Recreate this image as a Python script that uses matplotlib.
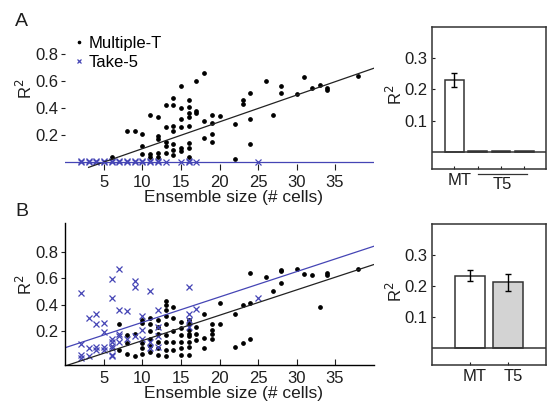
import numpy as np
import matplotlib
matplotlib.use("Agg")
import matplotlib.pyplot as plt
import matplotlib.transforms as mtransforms

plt.rcParams['font.family'] = ['Liberation Sans', 'DejaVu Sans']
plt.rcParams['font.size'] = 12

# ---- panel A scatter data (ensemble size vs R^2) ----
a_mt_x = [6, 8, 9,
          10, 10, 10, 11, 11, 11,
          12, 12, 12, 12, 12, 13, 13, 13, 13, 13,
          14, 14, 14, 14, 14, 14, 14,
          15, 15, 15, 15, 15, 15,
          16, 16, 16, 16, 16, 16, 16, 16,
          17, 17, 17, 18, 18, 18, 19, 19, 19, 19, 20,
          22, 22, 23, 23, 24, 24, 24, 26, 27, 28, 28,
          30, 31, 32, 33, 34, 34, 38]
a_mt_y = [0.04, 0.23, 0.23,
          0.21, 0.12, 0.06, 0.35, 0.06, 0.04,
          0.33, 0.19, 0.17, 0.07, 0.04, 0.42, 0.26, 0.15, 0.12, 0.07,
          0.47, 0.42, 0.27, 0.23, 0.13, 0.09, 0.05,
          0.56, 0.40, 0.32, 0.26, 0.10, 0.08,
          0.46, 0.41, 0.36, 0.33, 0.27, 0.14, 0.10, 0.04,
          0.60, 0.38, 0.36, 0.66, 0.30, 0.18, 0.35, 0.29, 0.21, 0.15, 0.34,
          0.28, 0.02, 0.46, 0.43, 0.51, 0.32, 0.13, 0.60, 0.35, 0.56, 0.51,
          0.50, 0.63, 0.55, 0.57, 0.55, 0.53, 0.64]

a_t5_x = [2, 2, 3, 3, 4, 4, 5, 5, 6, 6, 7, 7, 8, 8, 9, 9,
          10, 10, 11, 11, 12, 12, 13, 15, 16, 16, 17, 25]
a_t5_y = [0.01, 0.00, 0.00, 0.01, 0.00, 0.01, 0.00, 0.01, 0.01, 0.00,
          0.00, 0.01, 0.00, 0.01, 0.01, 0.00, 0.00, 0.01, 0.01, 0.00,
          0.00, 0.01, 0.00, 0.00, 0.01, 0.00, 0.00, 0.00]

# ---- panel B scatter data ----
b_mt_x = [7, 7, 8, 8, 8, 9, 9,
          10, 10, 10, 10, 10, 11, 11, 11, 11, 11, 11,
          12, 12, 12, 12, 12, 12,
          13, 13, 13, 13, 13, 13, 13, 13, 13,
          14, 14, 14, 14, 14, 15, 15, 15, 15, 15, 15,
          16, 16, 16, 16, 16, 16, 16, 16,
          17, 17, 17, 18, 18, 18, 19, 19, 19, 19, 20, 20,
          22, 22, 23, 23, 24, 24, 24, 26, 27, 28, 28, 28,
          30, 31, 32, 33, 34, 34, 38]
b_mt_y = [0.25, 0.06, 0.17, 0.11, 0.03, 0.18, 0.01,
          0.28, 0.26, 0.11, 0.07, 0.03, 0.30, 0.25, 0.20, 0.14, 0.09, 0.04,
          0.28, 0.23, 0.18, 0.12, 0.07, 0.02,
          0.43, 0.40, 0.36, 0.31, 0.25, 0.17, 0.12, 0.06, 0.01,
          0.38, 0.30, 0.20, 0.12, 0.06, 0.27, 0.22, 0.17, 0.12, 0.07, 0.02,
          0.28, 0.25, 0.21, 0.18, 0.16, 0.12, 0.08, 0.02,
          0.23, 0.18, 0.13, 0.33, 0.15, 0.07, 0.25, 0.21, 0.18, 0.14, 0.41, 0.25,
          0.33, 0.08, 0.40, 0.11, 0.64, 0.41, 0.14, 0.61, 0.50, 0.66, 0.65, 0.56,
          0.67, 0.63, 0.62, 0.38, 0.64, 0.62, 0.67]

b_t5_x = [2, 2, 2, 2, 3, 3, 3, 4, 4, 4, 4, 5, 5, 5, 5,
          6, 6, 6, 6, 6, 6, 6, 6, 7, 7, 7, 7, 7, 8, 8,
          9, 9, 9, 10, 10, 10, 11, 11, 11, 12, 12, 12, 12,
          16, 16, 16, 16, 17, 25]
b_t5_y = [0.49, 0.10, 0.02, 0.00, 0.30, 0.07, 0.01, 0.33, 0.25, 0.08, 0.06,
          0.26, 0.19, 0.08, 0.06,
          0.59, 0.45, 0.14, 0.12, 0.09, 0.07, 0.02, 0.01,
          0.67, 0.36, 0.18, 0.16, 0.12, 0.35, 0.14,
          0.58, 0.53, 0.16, 0.31, 0.21, 0.14, 0.50, 0.12, 0.07,
          0.36, 0.23, 0.16, 0.08,
          0.53, 0.33, 0.28, 0.23, 0.37, 0.45]

# regression lines: (slope, intercept, x start, x end)
a_fit_mt = (0.0198, -0.099, 3, 40)
a_fit_t5 = (0.0, 0.002, 0, 40)
b_fit_mt = (0.0191, -0.063, 0, 40)
b_fit_t5 = (0.0191, 0.075, 0, 40)

# ---- bar panels ----
a_bar_pos = [1, 2, 3, 4]
a_bar_val = [0.23, 0.002, 0.002, 0.002]
a_bar_err = [0.022, 0, 0, 0]

b_bar_pos = [1, 2]
b_bar_val = [0.233, 0.212]
b_bar_err = [0.017, 0.027]
b_bar_lab = ['MT', 'T5']

blue = '#4545b5'
ink = '#1e1e1e'

fig = plt.figure(figsize=(5.55, 4.07), dpi=100)

axA = fig.add_axes([0.118, 0.583, 0.555, 0.351])
axB = fig.add_axes([0.118, 0.103, 0.555, 0.349])
barA = fig.add_axes([0.778, 0.585, 0.206, 0.349])
barB = fig.add_axes([0.778, 0.103, 0.206, 0.347])


def fit_line(ax, fit, color):
    k, b, x0, x1 = fit
    xx = np.array([x0, x1])
    ax.plot(xx, k * xx + b, color=color, lw=0.9)


def scatter_axes(ax, spines):
    ax.set_xlim(0, 40)
    ax.set_ylim(-0.057, 1.0)
    ax.set_xticks([5, 10, 15, 20, 25, 30, 35])
    ax.set_yticks([0.2, 0.4, 0.6, 0.8])
    ax.set_yticklabels(['0.2', '0.4', '0.6', '0.8'])
    for s in ['top', 'right']:
        ax.spines[s].set_visible(False)
    for s in ['left', 'bottom']:
        ax.spines[s].set_visible(spines)
        ax.spines[s].set_linewidth(1.0)
    ax.tick_params(axis='x', direction='in', length=4, width=0.8, pad=4, colors=ink)
    ax.tick_params(axis='y', direction='out', length=3, width=0.8, pad=2, colors=ink)
    ax.set_ylabel('R$^2$', color=ink)
    ax.yaxis.set_label_coords(-0.10, 0.565)


# panel A
axA.plot(a_mt_x, a_mt_y, 'o', color='black', ms=2.4, label='Multiple-T')
axA.plot(a_t5_x, a_t5_y, 'x', color=blue, ms=4, mew=0.9, label='Take-5')
fit_line(axA, a_fit_mt, '#222222')
fit_line(axA, a_fit_t5, blue)
scatter_axes(axA, False)
axA.set_xlabel('Ensemble size (# cells)', color=ink, va='top', fontsize=12.5)
axA.xaxis.set_label_coords(0.545, -0.14)
leg = axA.legend(loc='upper left', bbox_to_anchor=(0.027, 0.935), frameon=False,
                 borderpad=0, borderaxespad=0, handlelength=0.6, handletextpad=0.3,
                 labelspacing=0.25, fontsize=12)
leg.legend_handles[0].set_markersize(1.6)
leg.legend_handles[1].set_markersize(3.5)

# panel B
axB.plot(b_mt_x, b_mt_y, 'o', color='black', ms=2.4)
axB.plot(b_t5_x, b_t5_y, 'x', color=blue, ms=5, mew=0.9)
fit_line(axB, b_fit_mt, '#222222')
fit_line(axB, b_fit_t5, blue)
scatter_axes(axB, True)
axB.set_ylim(-0.057, 1.015)
axB.set_xlabel('Ensemble size (# cells)', color=ink, va='top', fontsize=12.5)
axB.xaxis.set_label_coords(0.545, -0.15)


def bar_axes(ax):
    ax.set_ylim(-0.055, 0.4)
    ax.set_yticks([0.1, 0.2, 0.3])
    ax.set_yticklabels(['0.1', '0.2', '0.3'])
    ax.axhline(0, color='#333333', lw=1.1)
    for s in ax.spines.values():
        s.set_linewidth(1.1)
        s.set_color('#333333')
    ax.tick_params(axis='both', direction='in', length=2.5, width=0.8, pad=3, colors=ink)
    ax.set_ylabel('R$^2$', color=ink)
    ax.yaxis.set_label_coords(-0.235, 0.52)


# bar A
barA.bar(a_bar_pos, a_bar_val, width=0.8, color='white', edgecolor='#333333', lw=1.1)
barA.errorbar(a_bar_pos[:1], a_bar_val[:1], yerr=a_bar_err[:1], fmt='none',
              ecolor='black', elinewidth=1, capsize=2)
bar_axes(barA)
barA.set_xlim(0.03, 4.93)
barA.set_xticks(a_bar_pos)
barA.set_xticklabels(['MT', '', '', ''])
tr = mtransforms.blended_transform_factory(barA.transData, barA.transAxes)
barA.plot([2.0, 4.1], [-0.035, -0.035], color='#333333', lw=0.9,
          transform=tr, clip_on=False)
barA.text(3.05, -0.058, 'T5', transform=tr, ha='center', va='top', color=ink)

# bar B
barB.bar(b_bar_pos, b_bar_val, width=0.8, color=['white', '#d3d3d3'],
         edgecolor='#333333', lw=1.1)
barB.errorbar(b_bar_pos, b_bar_val, yerr=b_bar_err, fmt='none',
              ecolor='black', elinewidth=1, capsize=2)
bar_axes(barB)
barB.set_xlim(0, 3)
barB.set_xticks(b_bar_pos)
barB.set_xticklabels(b_bar_lab)

# tick labels of the bar panels sit a bit right of the ticks
shift = mtransforms.ScaledTranslation(5 / 100, 0, fig.dpi_scale_trans)
for ax in [barA, barB]:
    for lbl in ax.get_xticklabels():
        lbl.set_transform(lbl.get_transform() + shift)

fig.text(0.027, 0.968, 'A', fontsize=14, va='top', color=ink)
fig.text(0.027, 0.500, 'B', fontsize=14, va='top', color=ink)

fig.savefig('out.png', dpi=100)
